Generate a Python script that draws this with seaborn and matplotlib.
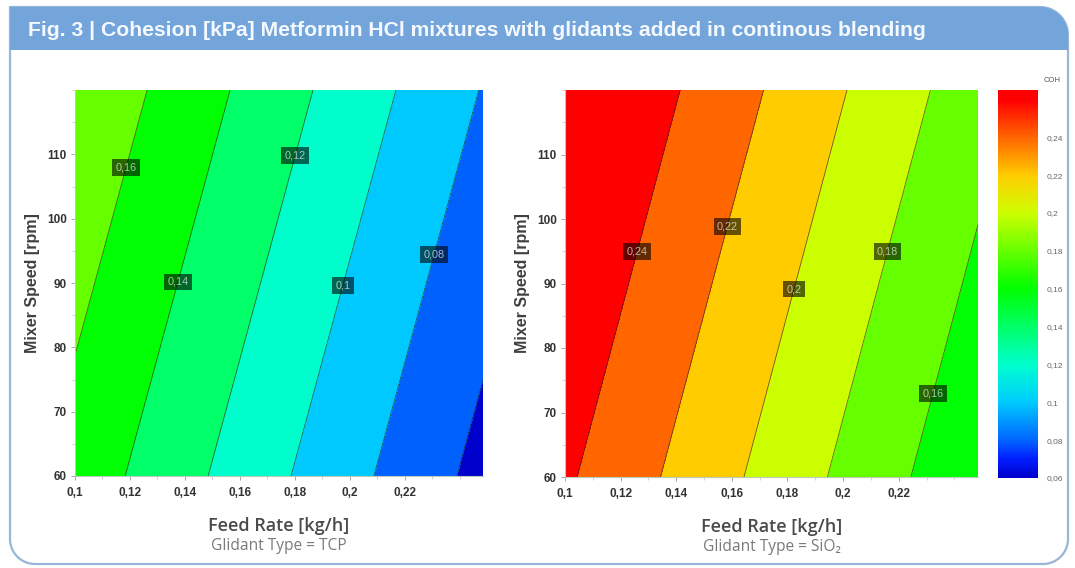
import numpy as np
import matplotlib
matplotlib.use("Agg")
import matplotlib.pyplot as plt
import seaborn as sns
from matplotlib.colors import LinearSegmentedColormap, Normalize
from matplotlib.patches import PathPatch
from matplotlib.path import Path
from matplotlib.ticker import FuncFormatter, FixedLocator, MultipleLocator
from matplotlib.cm import ScalarMappable

# ---- design space (corners) ----
feed_rate = [0.10, 0.2485]   # kg/h
mixer_speed = [60, 120]      # rpm

# cohesion [kPa] at the design-space corners; rows = mixer speed, cols = feed rate
coh_tcp = [[0.1521, 0.0537],
           [0.1774, 0.0790]]
coh_sio2 = [[0.2429, 0.1439],
            [0.2676, 0.1686]]

# iso-lines and their label anchors
levels_tcp = [0.06, 0.08, 0.10, 0.12, 0.14, 0.16]
levels_sio2 = [0.16, 0.18, 0.20, 0.22, 0.24]
label_pos_tcp = [(0.1193, 107.9), (0.1382, 90.1), (0.1804, 109.8),
                 (0.1978, 89.6), (0.2313, 94.4)]
label_pos_sio2 = [(0.1264, 94.9), (0.1589, 98.8), (0.1824, 89.1),
                  (0.2164, 94.9), (0.2319, 73.0)]
band_edges = [0.04, 0.06, 0.08, 0.10, 0.12, 0.14, 0.16, 0.18, 0.20,
              0.22, 0.24, 0.26, 0.28]

x_ticks = [0.10, 0.12, 0.14, 0.16, 0.18, 0.20, 0.22]
y_ticks = [60, 70, 80, 90, 100, 110]
cbar_ticks = [0.06, 0.08, 0.10, 0.12, 0.14, 0.16, 0.18, 0.20, 0.22, 0.24]
cbar_range = [0.06, 0.265]

panel_names = ["TCP", "SiO₂"]
title = "Fig. 3 | Cohesion [kPa] Metformin HCl mixtures with glidants added in continous blending"

# ---- colour scale: blue -> cyan -> green -> yellow -> red ----
stops = [(0.06, (0.00, 0.00, 0.80)),
         (0.07, (0.00, 0.12, 1.00)),
         (0.08, (0.00, 0.40, 1.00)),
         (0.10, (0.00, 0.80, 1.00)),
         (0.12, (0.00, 1.00, 0.80)),
         (0.14, (0.00, 1.00, 0.40)),
         (0.16, (0.00, 1.00, 0.00)),
         (0.18, (0.40, 1.00, 0.00)),
         (0.20, (0.80, 1.00, 0.00)),
         (0.22, (1.00, 0.80, 0.00)),
         (0.24, (1.00, 0.40, 0.00)),
         (0.26, (1.00, 0.00, 0.00)),
         (0.265, (1.00, 0.00, 0.00))]
lo, hi = cbar_range
cmap = LinearSegmentedColormap.from_list(
    "coh", [((v - lo) / (hi - lo), c) for v, c in stops])
norm = Normalize(vmin=lo, vmax=hi)
band_colors = [cmap(norm(min(b, hi))) for b in band_edges[1:]]


def comma(v, _=None):
    return f"{v:g}".replace(".", ",")


sns.set_theme(style="ticks")
plt.rcParams["font.family"] = ["Liberation Sans", "DejaVu Sans"]

W, H = 1075, 568
fig = plt.figure(figsize=(W / 100, H / 100), dpi=100)


def px(x, y):
    return (x / W, 1 - y / H)


def rounded_path(x0, y0, x1, y1, r_tl, r_tr, r_br, r_bl):
    pts = []

    def arc(cx, cy, r, a0, a1):
        if r == 0:
            pts.append((cx, cy))
            return
        for a in np.linspace(a0, a1, 16):
            pts.append((cx + r * np.cos(a), cy + r * np.sin(a)))
    arc(x0 + r_tl, y0 + r_tl, r_tl, np.pi, 1.5 * np.pi)
    arc(x1 - r_tr, y0 + r_tr, r_tr, 1.5 * np.pi, 2 * np.pi)
    arc(x1 - r_br, y1 - r_br, r_br, 0, 0.5 * np.pi)
    arc(x0 + r_bl, y1 - r_bl, r_bl, 0.5 * np.pi, np.pi)
    pts = [px(a, b) for a, b in pts]
    return Path(pts + [pts[0]], closed=True)


# frame and header bar
fig.patches.append(PathPatch(rounded_path(10, 7, 1068, 564, 0, 28, 25, 25),
                             transform=fig.transFigure, fc="white",
                             ec="#98b6da", lw=1.6, zorder=-2))
fig.patches.append(PathPatch(rounded_path(10, 7, 1068, 50, 0, 28, 0, 0),
                             transform=fig.transFigure, fc="#74a5da",
                             ec="none", zorder=-1))
fig.text(*px(28, 30), title, color="#f4f8ff", fontsize=15.2, fontweight="bold",
         va="center", ha="left", zorder=2)

axes_px = [(75, 90, 483, 476), (565, 90, 978, 477)]
data = [coh_tcp, coh_sio2]
line_levels = [levels_tcp, levels_sio2]
label_pos = [label_pos_tcp, label_pos_sio2]

X, Y = np.meshgrid(feed_rate, mixer_speed)
for i in range(2):
    x0, y0, x1, y1 = axes_px[i]
    ax = fig.add_axes([x0 / W, 1 - y1 / H, (x1 - x0) / W, (y1 - y0) / H],
                      zorder=3)
    ax.patch.set_alpha(0)
    Z = np.array(data[i])
    ax.contourf(X, Y, Z, levels=band_edges, colors=band_colors)
    cs = ax.contour(X, Y, Z, levels=line_levels[i], colors="#2a2a2a",
                    linewidths=0.6, alpha=0.7)
    texts = ax.clabel(cs, line_levels[i], inline=False, manual=label_pos[i],
                      fmt=comma, fontsize=7.8, colors="#eef6ee")
    for t in texts:
        t.set_rotation(0)
        t.set_bbox(dict(boxstyle="square,pad=0.3", fc="black", alpha=0.6,
                        ec="none"))

    ax.set_xlim(feed_rate)
    ax.set_ylim(mixer_speed)
    ax.xaxis.set_major_locator(FixedLocator(x_ticks))
    ax.yaxis.set_major_locator(FixedLocator(y_ticks))
    ax.xaxis.set_minor_locator(MultipleLocator(0.01))
    ax.yaxis.set_minor_locator(MultipleLocator(5))
    ax.xaxis.set_major_formatter(FuncFormatter(comma))
    ax.tick_params(axis="both", which="major", length=3, width=0.6,
                   color="#999999", labelsize=8.5, labelcolor="#333333")
    ax.tick_params(axis="x", which="major", pad=5)
    ax.tick_params(axis="y", which="major", pad=3)
    ax.tick_params(axis="both", which="minor", length=2, width=0.5,
                   color="#bbbbbb")
    for lab in ax.get_xticklabels() + ax.get_yticklabels():
        lab.set_fontweight("bold")
    for s in ["top", "right"]:
        ax.spines[s].set_visible(False)
    for s in ["left", "bottom"]:
        ax.spines[s].set_color("#b8ccb8")
        ax.spines[s].set_linewidth(0.8)

    ax.set_ylabel("Mixer Speed [rpm]", fontsize=11.5, fontweight="bold",
                  color="#404040", labelpad=5)
    ax.set_xlabel("Feed Rate [kg/h]", fontsize=13, color="#4a4a4a",
                  fontweight="semibold",
                  family=["Open Sans", "DejaVu Sans"], labelpad=13)
    ax.text(0.5, -0.182, f"Glidant Type = {panel_names[i]}",
            transform=ax.transAxes, ha="center", va="center", fontsize=11.2,
            color="#7a7a7a", family=["Open Sans", "DejaVu Sans"])

# colour bar
cax = fig.add_axes([998 / W, 1 - 478 / H, 40 / W, 388 / H], zorder=3)
cb = fig.colorbar(ScalarMappable(norm=norm, cmap=cmap), cax=cax)
cb.set_ticks(cbar_ticks)
cb.ax.yaxis.set_major_formatter(FuncFormatter(comma))
cb.ax.tick_params(length=0, labelsize=6, labelcolor="#666666", pad=6)
cb.outline.set_visible(False)
cb.ax.minorticks_off()
fig.text(*px(1052, 80), "COH", fontsize=5.5, color="#555555",
         ha="center", va="center")

fig.savefig("out.png", dpi=100)
